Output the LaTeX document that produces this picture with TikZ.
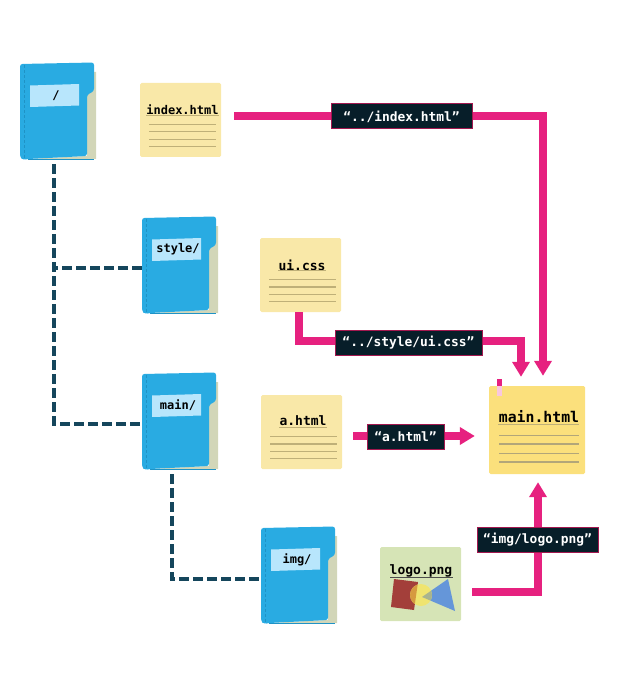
\documentclass[tikz,border=0pt]{standalone}
\usepackage{fontspec}
\setmonofont{DejaVu Sans Mono}
\usetikzlibrary{arrows.meta,calc}

\definecolor{folderblue}{HTML}{29ABE2}
\definecolor{folderback}{HTML}{D2D6B8}
\definecolor{folderseam}{HTML}{1F93C6}
\definecolor{tablight}{HTML}{B8E6FC}
\definecolor{notepale}{HTML}{F9E8A8}
\definecolor{notestrong}{HTML}{FBE07C}
\definecolor{notegreen}{HTML}{D6E4B6}
\definecolor{rulecol}{HTML}{BFB078}
\definecolor{linkpink}{HTML}{E6217F}
\definecolor{treeblue}{HTML}{15465C}
\definecolor{tagdark}{HTML}{071E29}
\definecolor{tagedge}{HTML}{A3184F}
\definecolor{logored}{HTML}{A33F3A}
\definecolor{logoyellow}{HTML}{EFE46F}
\definecolor{logoblue}{HTML}{6596D9}
\definecolor{logoorange}{HTML}{D69A3F}
\definecolor{logogrey}{HTML}{A8B48F}

\tikzset{
    tree/.style={draw=treeblue,line width=4pt,dash pattern=on 10pt off 4pt},
    link/.style={draw=linkpink,line width=8pt,-{Triangle[length=15pt,width=17pt]}},
    tag/.style={fill=tagdark,draw=tagedge,line width=1pt,text=white,font=\ttfamily\bfseries\fontsize{12.9}{14}\selectfont,minimum height=25pt,inner sep=0pt},
    note/.style={fill=#1,rounded corners=1.5pt,minimum width=81pt,minimum height=74pt,inner sep=0pt},
    notetitle/.style={font=\ttfamily\bfseries\fontsize{13}{15}\selectfont,inner sep=0pt},
    pics/folder/.style={code={
        \fill[folderback] (67,10) -- (76,10) -- (76,97) -- (8,97) -- (67,94) -- cycle;
        \draw[folderseam,line width=1pt] (8,97.5) -- (74,97.5);
        \fill[folderblue,rounded corners=2.5pt] (0,2) -- (74,0.5) -- (74,29) -- (67,33) -- (67,94) -- (8,97) -- (3,98) -- (0,95) -- cycle;
        \draw[folderseam,densely dashed,line width=0.5pt] (4,3) -- (4,96);
        \fill[tablight] (10,23.5) -- (59,22) -- (59,43.5) -- (10,45) -- cycle;
        \node[notetitle,font=\ttfamily\bfseries\fontsize{12}{14}\selectfont] (-label) at (36,33.5) {#1};
        \node[minimum width=68pt,minimum height=100pt,inner sep=0pt] (-box) at (34,52) {};
    }}
}

\newcommand{\noterules}[1]{
    \draw[rulecol,line width=0.8pt] ([yshift=5pt]#1-title.west |- #1.center) -- ([yshift=5pt]#1-title.east |- #1.center);
    \foreach \dy/\wd in {4.3/0.8pt,11.7/1.6pt,19.3/0.8pt,26.3/0.8pt}
        \draw[rulecol,line width=\wd] ([shift={(-31.5,\dy)}]#1.center) -- ([shift={(35.5,\dy)}]#1.center);
}

\begin{document}
\begin{tikzpicture}[x=1pt,y=-1pt]
    \useasboundingbox (0,0) rectangle (624,695);

    % Folders
    \pic (root) at (20,62) {folder={/}};
    \pic (style) at (142,216) {folder={style/}};
    \pic (main) at (142,372) {folder={main/}};
    \pic (img) at (261,526) {folder={img/}};

    % Files
    \node[note=notepale] (index) at (180.5,120) {};
    \node[notetitle,font=\ttfamily\bfseries\fontsize{12}{14}\selectfont] (index-title) at (182.5,110) {index.html};
    \noterules{index}
    \node[note=notepale] (ui) at (300.5,275) {};
    \node[notetitle] (ui-title) at (302,265) {ui.css};
    \noterules{ui}
    \node[note=notepale] (a) at (301.5,432) {};
    \node[notetitle] (a-title) at (303,421) {a.html};
    \noterules{a}
    \node[note=notegreen] (logo) at (420.5,584) {};
    \node[notetitle] (logo-title) at (421,571) {logo.png};
    \draw[black!70,line width=0.5pt] (390,577.5) -- (452.5,577.5);

    % The picture on the png
    \fill[logored] (394,579) -- (418,582) -- (414,610) -- (391,607) -- cycle;
    \fill[logoblue] (448,579) -- (455,611) -- (422,597) -- cycle;
    \fill[logoyellow] (421,595) circle (11);
    \begin{scope}
        \clip (421,595) circle (11);
        \fill[logoorange] (394,579) -- (418,582) -- (414,610) -- (391,607) -- cycle;
        \fill[logogrey] (448,579) -- (455,611) -- (422,597) -- cycle;
    \end{scope}

    % The page that links to them
    \node[note=notestrong,minimum width=96pt,minimum height=88pt] (page) at (537,430) {};
    \node[notetitle,font=\ttfamily\bfseries\fontsize{14.8}{16}\selectfont] (page-title) at (539,417) {main.html};
    \draw[rulecol,line width=0.8pt] (498,424.5) -- (579,424.5);
    \foreach \ry/\wd in {435.5/0.8pt,444/1.6pt,453.5/0.8pt,462/1.6pt}
        \draw[rulecol!80!gray,line width=\wd] (499,\ry) -- (579,\ry);
    \fill[linkpink] (497,379) rectangle (502,386);
    \fill[linkpink!25!white] (497,386) rectangle (502,396);

    % Folder tree
    \draw[tree] (root-box.south) |- (main-box.west);
    \draw[tree] (style-box.west) -- (style-box.west -| root-box.south);
    \draw[tree] ([xshift=-4pt]main-box.south) |- ([yshift=-1pt]img-box.west);

    % Links to the page
    \draw[link,shorten <=13pt,shorten >=10pt] ([yshift=4pt]index.east) -| ([xshift=6pt]page.north);
    \draw[link,shorten >=9pt] ([xshift=-1.5pt]ui.south) |- ($(ui.south)+(100,29)$) -| ([xshift=-16pt]page.north);
    \draw[link,shorten <=11pt,shorten >=14pt] ([yshift=-4pt]a.east) -- ([yshift=-6pt]page.west);
    \draw[link,shorten <=11pt,shorten >=8pt] ([yshift=-8pt]logo.east) -| ([xshift=1pt]page.south);

    % Labels on the links
    \node[tag,minimum width=141pt] (tag-index) at (401.5,116.5) {“../index.html”};
    \node[tag,minimum width=147pt] (tag-ui) at (408.5,342.5) {“../style/ui.css”};
    \node[tag,minimum width=77pt] (tag-a) at (405.5,436.5) {“a.html”};
    \node[tag,minimum width=121pt] (tag-logo) at (537.5,539.5) {“img/logo.png”};
\end{tikzpicture}
\end{document}
